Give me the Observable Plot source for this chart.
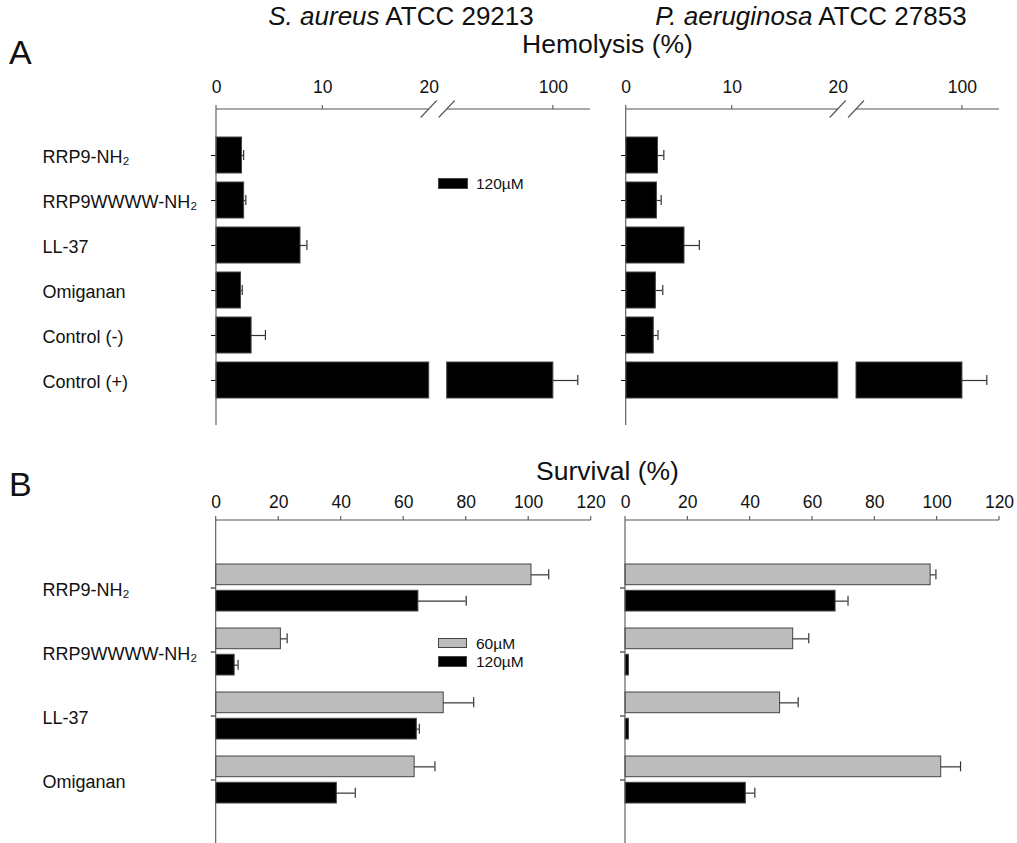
<!DOCTYPE html>
<html><head><meta charset="utf-8">
<script src="https://cdn.jsdelivr.net/npm/d3@7"></script>
<script src="https://cdn.jsdelivr.net/npm/@observablehq/plot@0.6"></script>
<style>
html,body{margin:0;padding:0;background:#fff;overflow:hidden}
#fig{position:relative;width:1017px;height:843px;overflow:hidden;font-family:"Liberation Sans",Arial,Helvetica,sans-serif;color:#111}
.abs{position:absolute;white-space:nowrap;line-height:1}
.panel{position:absolute}
.panel svg{overflow:visible;background:transparent}
.sw{position:absolute;box-sizing:border-box;border:1px solid #444}
</style></head><body><div id="fig"></div>
<script>
// ---------- data ----------
const hemoCategories = ["RRP9-NH₂", "RRP9WWWW-NH₂", "LL-37", "Omiganan", "Control (-)", "Control (+)"];
const hemoSaureus    = [2.4, 2.6, 7.9, 2.3, 3.3, 100];
const hemoSaureusErr = [0.15, 0.16, 0.6, 0.12, 1.3, 2.3];
const hemoPaeru      = [3.0, 2.9, 5.5, 2.8, 2.6, 100];
const hemoPaeruErr   = [0.55, 0.4, 1.4, 0.65, 0.4, 2.3];
const hemoTicks = [0, 10, 20, 100];
const hemoTickMarks = [0, 10, 100];
const hemoBreak = [20, 90];
const hemoEnd = 103.5;

const survCategories = ["RRP9-NH₂", "RRP9WWWW-NH₂", "LL-37", "Omiganan"];
const survSaureus60     = [100.9, 20.7, 72.8, 63.5];
const survSaureus60Err  = [5.5, 2.0, 9.6, 6.5];
const survSaureus120    = [64.7, 5.9, 64.2, 38.6];
const survSaureus120Err = [15.3, 1.1, 0.8, 5.9];
const survPaeru60       = [97.9, 53.8, 49.6, 101.3];
const survPaeru60Err    = [1.7, 5.0, 5.8, 6.2];
const survPaeru120      = [67.4, 1.1, 1.1, 38.6];
const survPaeru120Err   = [4.0, 0, 0, 2.9];
const survTicks = [0, 20, 40, 60, 80, 100, 120];
const survEnd = 120;

const titles = ["S. aureus", "P. aeruginosa"];
const strains = ["ATCC 29213", "ATCC 27853"];

const GRAY = "#bcbcbc", BLACK = "#000", EDGE = "#444", ERR = "#333", AXIS = "#555";
const FONT = "'Liberation Sans', Arial, Helvetica, sans-serif";

// ---------- helpers ----------
function axisFurniture({xEnd, tickValues, breakAt = null}) {
  return (index, scales, values, dims) => {
    const x = scales.x;
    const g = d3.create("svg:g").attr("fill", "none").attr("stroke", AXIS).attr("stroke-width", 1.1);
    const yTop = dims.marginTop;
    const yBot = dims.height - dims.marginBottom;
    g.append("line").attr("x1", x(0)).attr("x2", x(0)).attr("y1", yTop).attr("y2", yBot);
    const segs = breakAt == null ? [[0, xEnd]] : [[0, breakAt[0]], [breakAt[1], xEnd]];
    for (const [a, b] of segs) g.append("line").attr("x1", x(a)).attr("x2", x(b)).attr("y1", yTop).attr("y2", yTop);
    for (const t of tickValues) g.append("line").attr("x1", x(t)).attr("x2", x(t)).attr("y1", yTop - 4).attr("y2", yTop);
    if (breakAt != null) for (const v of breakAt)
      g.append("line").attr("x1", x(v) - 8).attr("x2", x(v) + 8).attr("y1", yTop + 8.5).attr("y2", yTop - 8.5);
    return g.node();
  };
}

function labelMark(cats, marginLeft) {
  return Plot.text(cats, {y: d => d, text: d => d, frameAnchor: "left", textAnchor: "start",
    dx: 42 - marginLeft, dy: 2, fontSize: 18, fill: "#111"});
}

function hemoPanel(values, errs, o) {
  const rows = hemoCategories.map((cat, i) => ({cat, value: values[i], hi: values[i] + errs[i]}));
  const segs = rows.flatMap(d => d.value > hemoBreak[0]
    ? [{cat: d.cat, x1: 0, x2: hemoBreak[0]}, {cat: d.cat, x1: hemoBreak[1], x2: d.value}]
    : [{cat: d.cat, x1: 0, x2: d.value}]);
  const marks = [
    Plot.barX(segs, {y: "cat", x1: "x1", x2: "x2", fill: BLACK, stroke: EDGE, strokeWidth: 1}),
    Plot.ruleY(rows, {y: "cat", x1: "value", x2: "hi", stroke: ERR, strokeWidth: 1.2}),
    Plot.tickX(rows, {x: "hi", y: "cat", insetTop: 13, insetBottom: 13, stroke: ERR, strokeWidth: 1.2}),
    axisFurniture({xEnd: hemoEnd, tickValues: hemoTickMarks, breakAt: hemoBreak})
  ];
  if (o.labels) marks.push(labelMark(hemoCategories, o.marginLeft));
  return Plot.plot({
    width: o.width, height: 370, marginTop: 49, marginBottom: 5, marginLeft: o.marginLeft, marginRight: o.marginRight,
    style: {fontFamily: FONT, fontSize: "17.5px", color: "#111", background: "transparent", overflow: "visible"},
    x: {type: "linear", domain: [0, hemoBreak[0], hemoBreak[1], hemoEnd], range: o.range, axis: "top",
        ticks: hemoTicks, tickSize: 0, tickPadding: 17, label: null},
    y: {type: "band", domain: hemoCategories, paddingInner: 0.2, paddingOuter: 0.6, tickSize: 5,
        tickFormat: () => "", label: null},
    marks
  });
}

function survPanel(v60, e60, v120, e120, o) {
  const r60 = survCategories.map((cat, i) => ({cat, value: v60[i], hi: v60[i] + e60[i], err: e60[i]}));
  const r120 = survCategories.map((cat, i) => ({cat, value: v120[i], hi: v120[i] + e120[i], err: e120[i]}));
  const f60 = r60.filter(d => d.err > 0), f120 = r120.filter(d => d.err > 0);
  const marks = [
    Plot.barX(r60, {y: "cat", x1: 0, x2: "value", insetBottom: 26.3, fill: GRAY, stroke: EDGE, strokeWidth: 1}),
    Plot.barX(r120, {y: "cat", x1: 0, x2: "value", insetTop: 26.3, fill: BLACK, stroke: EDGE, strokeWidth: 1}),
    Plot.ruleY(f60, {y: "cat", x1: "value", x2: "hi", dy: -13.15, stroke: ERR, strokeWidth: 1.2}),
    Plot.ruleY(f120, {y: "cat", x1: "value", x2: "hi", dy: 13.15, stroke: ERR, strokeWidth: 1.2}),
    Plot.tickX(f60, {x: "hi", y: "cat", insetTop: 5.35, insetBottom: 31.65, stroke: ERR, strokeWidth: 1.2}),
    Plot.tickX(f120, {x: "hi", y: "cat", insetTop: 31.65, insetBottom: 5.35, stroke: ERR, strokeWidth: 1.2}),
    axisFurniture({xEnd: survEnd, tickValues: survTicks})
  ];
  if (o.labels) marks.push(labelMark(survCategories, o.marginLeft));
  return Plot.plot({
    width: o.width, height: 367, marginTop: 40, marginBottom: 0, marginLeft: o.marginLeft, marginRight: o.marginRight,
    style: {fontFamily: FONT, fontSize: "17.5px", color: "#111", background: "transparent", overflow: "visible"},
    x: {type: "linear", domain: [0, survEnd], axis: "top", ticks: survTicks, tickSize: 0, tickPadding: 13, label: null},
    y: {type: "band", domain: survCategories, paddingInner: 0.27, paddingOuter: 0.67, tickSize: 5,
        tickFormat: () => "", label: null},
    marks
  });
}

// ---------- layout ----------
const fig = document.getElementById("fig");
function place(node, left, top, w) {
  const d = document.createElement("div");
  d.className = "panel";
  d.style.left = left + "px"; d.style.top = top + "px"; d.style.width = w + "px";
  d.appendChild(node); fig.appendChild(d);
}
function text(html, x, baseline, fs, anchor = "start", italicFirst = false) {
  const d = document.createElement("div");
  d.className = "abs";
  d.style.fontSize = fs + "px";
  d.style.top = (baseline - 0.8465 * fs) + "px";
  d.style.left = x + "px";
  if (anchor === "middle") d.style.transform = "translateX(-50%)";
  d.innerHTML = html;
  fig.appendChild(d);
  return d;
}

place(hemoPanel(hemoSaureus, hemoSaureusErr, {width: 600, marginLeft: 216, marginRight: 10, range: [216, 428.7, 446.7, 590], labels: true}), 0, 60, 600);
place(hemoPanel(hemoPaeru, hemoPaeruErr, {width: 417, marginLeft: 26, marginRight: 18, range: [25.7, 237.7, 256, 399], labels: false}), 600, 60, 417);
place(survPanel(survSaureus60, survSaureus60Err, survSaureus120, survSaureus120Err, {width: 600, marginLeft: 215.7, marginRight: 9.3, labels: true}), 0, 480, 600);
place(survPanel(survPaeru60, survPaeru60Err, survPaeru120, survPaeru120Err, {width: 417, marginLeft: 25, marginRight: 18, labels: false}), 600, 480, 417);

text("A", 9, 64, 34);
text("B", 9, 496, 34);
text(`<i>${titles[0]}</i> ${strains[0]}`, 401, 25, 26, "middle");
text(`<i>${titles[1]}</i> ${strains[1]}`, 811, 25, 26, "middle");
text("Hemolysis (%)", 607.5, 53, 26.5, "middle");
text("Survival (%)", 607.5, 480, 26.5, "middle");

// legends
function swatch(x, y, w, h, fill) {
  const d = document.createElement("div");
  d.className = "sw";
  Object.assign(d.style, {left: x + "px", top: y + "px", width: w + "px", height: h + "px", background: fill});
  fig.appendChild(d);
}
swatch(437.7, 177.7, 30, 11.6, BLACK);
text("120µM", 476, 189.3, 15.5);
swatch(437.7, 637.7, 29.6, 10.2, GRAY);
text("60µM", 476, 648.7, 15.5);
swatch(437.7, 656.2, 29.6, 10.5, BLACK);
text("120µM", 476, 667.3, 15.5);
</script></body></html>
